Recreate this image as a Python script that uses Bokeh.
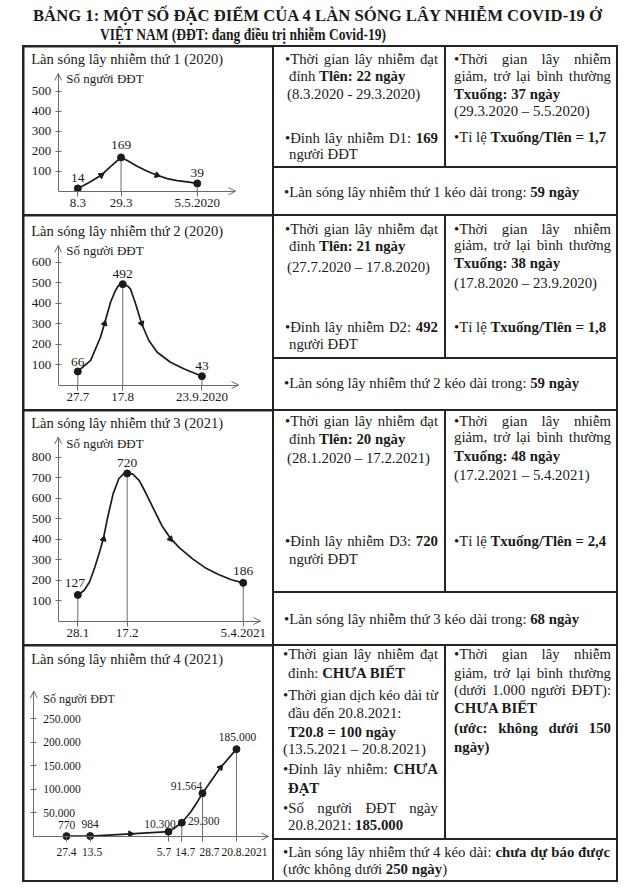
import pandas as pd
from bokeh.plotting import figure
from bokeh.models import (Div, Spacer, Label, LabelSet, ColumnDataSource,
                          FixedTicker, Range1d)
from bokeh.layouts import row, column
from bokeh.core.properties import value
from bokeh.embed import file_html
from bokeh.resources import INLINE

SERIF = "Liberation Serif"
INK = "#1b1b1b"
AXIS = "#6b6b6b"
RULE = "#242424"

# ------------------------------------------------------------------ data
TITLE_1 = "BẢNG 1: MỘT SỐ ĐẶC ĐIỂM CỦA 4 LÀN SÓNG LÂY NHIỄM COVID-19 Ở"
TITLE_2 = "VIỆT NAM (ĐĐT: đang điều trị nhiễm Covid-19)"
Y_CAPTION = "Số người ĐĐT"

wave_titles = ["Làn sóng lây nhiễm thứ 1 (2020)", "Làn sóng lây nhiễm thứ 2 (2020)",
               "Làn sóng lây nhiễm thứ 3 (2021)", "Làn sóng lây nhiễm thứ 4 (2021)"]

# wave 1
w1_dates = ["2020-03-08", "2020-03-29", "2020-05-05"]
w1_date_labels = ["8.3", "29.3", "5.5.2020"]
w1_values = [14, 169, 39]
w1_y_ticks = [100, 200, 300, 400, 500]
w1_curve_days = [0, 5.5, 11.4, 16, 21, 24, 28.8, 33.7, 38.5, 43.4, 48.2, 53.1, 58]
w1_curve_values = [14, 44, 80, 124, 169, 153, 125, 100, 80, 63, 53, 47, 39]
w1_arrow_days = [11.4, 38.5]
w1_arrow_values = [80, 80]

# wave 2
w2_dates = ["2020-07-27", "2020-08-17", "2020-09-23"]
w2_date_labels = ["27.7", "17.8", "23.9.2020"]
w2_values = [66, 492, 43]
w2_y_ticks = [100, 200, 300, 400, 500, 600]
w2_curve_days = [0, 6, 10.6, 12.5, 15.3, 17.6, 19.2, 21, 23.2, 24.6, 27, 29.8, 33.2,
                 37.1, 43.3, 49.5, 58]
w2_curve_values = [66, 120, 233, 300, 404, 461, 488, 492, 483, 469, 396, 300, 217,
                   160, 111, 79, 43]
w2_arrow_days = [12.5, 29.8]
w2_arrow_values = [300, 300]

# wave 3
w3_dates = ["2021-01-28", "2021-02-17", "2021-04-05"]
w3_date_labels = ["28.1", "17.2", "5.4.2021"]
w3_values = [127, 720, 186]
w3_y_ticks = [100, 200, 300, 400, 500, 600, 700, 800]
w3_curve_days = [0, 2.5, 4.7, 6.9, 9.0, 10.4, 12.1, 14.3, 16.6, 18.8, 20, 22.2, 24.9,
                 27.4, 30.7, 34.0, 37.5, 41.2, 46.5, 51.7, 57.0, 62.2, 67]
w3_curve_values = [127, 149, 189, 262, 344, 404, 506, 620, 694, 721, 720, 718, 685,
                   628, 547, 466, 404, 357, 303, 259, 227, 201, 186]
w3_arrow_days = [10.4, 37.5]
w3_arrow_values = [400, 400]

# wave 4
w4_dates = ["2021-04-27", "2021-05-13", "2021-07-05", "2021-07-14", "2021-07-28", "2021-08-20"]
w4_date_labels = ["27.4", "13.5", "5.7", "14.7", "28.7", "20.8.2021"]
w4_values = [770, 984, 10300, 29300, 91564, 185000]
w4_y_ticks = [50000, 100000, 150000, 200000, 250000]
w4_curve_days = [0, 16, 43.3, 69, 72.6, 78, 83.9, 88.4, 92, 104.2, 115]
w4_curve_values = [770, 984, 5500, 10300, 17000, 29300, 51500, 72700, 91564, 146000, 185000]
w4_arrow_days = [43.3, 104.2]
w4_arrow_values = [5500, 146000]


def vn_num(v):
    return f"{v:,}".replace(",", ".")


def day_offsets(dates):
    d = pd.to_datetime(pd.Series(dates), format="%Y-%m-%d")
    return [int(v) for v in (d - d.iloc[0]).dt.days]


# ------------------------------------------------------------------ charts
CHART_W = 248


def wave_chart(h, g, title, dates, date_labels, values, y_ticks,
               curve_d, curve_v, arrow_d, arrow_v, st):
    days = day_offsets(dates)
    s, t = g["px_per_day"], g["px_per_unit"]
    d0, oy = g["day0_x"], g["origin_y"]
    x_lo, x_hi = -d0 / s, (CHART_W - d0) / s
    y_lo, y_hi = -(h - oy) / t, oy / t
    ax_x = (g["axis_x"] - d0) / s
    tip_y = (oy - g["y_tip"]) / t
    tip_x = (g["x_tip"] - d0) / s

    p = figure(width=CHART_W, height=h, x_range=Range1d(x_lo, x_hi),
               y_range=Range1d(y_lo, y_hi), output_backend="svg",
               toolbar_location=None, title=None,
               min_border_left=0, min_border_right=0, min_border_top=0, min_border_bottom=0,
               background_fill_color="white", border_fill_color="white",
               outline_line_color=None)
    p.grid.visible = False
    xa, ya = p.xaxis[0], p.yaxis[0]
    for ax in (xa, ya):
        ax.axis_line_color = AXIS
        ax.axis_line_width = 1
        ax.major_tick_line_color = AXIS
        ax.minor_tick_line_color = None
        ax.major_label_text_font = SERIF
        ax.major_label_text_color = INK
        ax.major_label_text_font_size = st["tick_fs"]
    xa.fixed_location = 0
    ya.fixed_location = ax_x
    xa.bounds = (ax_x, tip_x)
    ya.bounds = (0, tip_y)
    xa.ticker = FixedTicker(ticks=days)
    xa.major_tick_in = 0
    xa.major_tick_out = 5
    xa.major_label_standoff = 3
    ya.ticker = FixedTicker(ticks=y_ticks)
    ya.major_tick_in = 3
    ya.major_tick_out = 3
    ya.major_label_standoff = 4

    if st["inside_labels"]:
        xa.major_label_overrides = {dd: "" for dd in days}
        ya.major_label_overrides = {tk: "" for tk in y_ticks}
        ysrc = ColumnDataSource(dict(x=[ax_x] * len(y_ticks), y=y_ticks,
                                     t=[vn_num(tk) for tk in y_ticks]))
        p.add_layout(LabelSet(x="x", y="y", text="t", source=ysrc, x_offset=st["ylab_dx"],
                              text_align="left", text_baseline="middle",
                              text_font=value(SERIF), text_font_size=st["tick_fs"],
                              text_color=INK))
        xsrc = ColumnDataSource(dict(x=days, y=[0] * len(days), t=date_labels,
                                     xo=st["xlab_dx"]))
        p.add_layout(LabelSet(x="x", y="y", text="t", source=xsrc, x_offset="xo",
                              y_offset=st["xlab_dy"], text_align="center",
                              text_baseline="middle", text_font=value(SERIF),
                              text_font_size=st["tick_fs"], text_color=INK))
    else:
        xa.major_label_overrides = {dd: lab for dd, lab in zip(days, date_labels)}

    # drop lines, curve, points, direction marks
    p.segment(x0=days, y0=[0] * len(days), x1=days, y1=values, line_color=AXIS, line_width=1)
    p.line(curve_d, curve_v, line_color=INK, line_width=1.7, line_join="round")
    p.scatter(days, values, size=st["dot"], color=INK)
    p.scatter(arrow_d, arrow_v, marker="triangle", size=6, angle=st["arrow_angles"], color=INK)

    # open arrow heads at the ends of both axes
    hw, hl = 3.5, 7.0
    p.line([ax_x - hw / s, ax_x, ax_x + hw / s], [tip_y - hl / t, tip_y, tip_y - hl / t],
           line_color=AXIS, line_width=1)
    p.line([tip_x - hl / s, tip_x, tip_x - hl / s], [hw / t, 0, -hw / t],
           line_color=AXIS, line_width=1)

    vsrc = ColumnDataSource(dict(x=days, y=values, t=[vn_num(v) for v in values],
                                 xo=[o[0] for o in st["val_off"]],
                                 yo=[o[1] for o in st["val_off"]]))
    p.add_layout(LabelSet(x="x", y="y", text="t", source=vsrc, x_offset="xo", y_offset="yo",
                          text_align="center", text_baseline="middle",
                          text_font=value(SERIF), text_font_size=st["val_fs"],
                          text_color=INK))

    p.add_layout(Label(x=ax_x, y=tip_y, x_offset=st["title_off"][0], y_offset=st["title_off"][1],
                       text=title, text_font=SERIF, text_font_size="14.6px", text_color=INK,
                       text_align="left", text_baseline="middle"))
    p.add_layout(Label(x=ax_x, y=tip_y, x_offset=st["cap_off"][0], y_offset=st["cap_off"][1],
                       text=Y_CAPTION, text_font=SERIF, text_font_size=st["cap_fs"],
                       text_color=INK, text_align="left", text_baseline="middle"))
    return p


c1 = wave_chart(167, dict(axis_x=33.7, origin_y=143.7, day0_x=53.3, px_per_day=2.06,
                          px_per_unit=0.2, y_tip=26, x_tip=211),
                wave_titles[0], w1_dates, w1_date_labels, w1_values, w1_y_ticks,
                w1_curve_days, w1_curve_values, w1_arrow_days, w1_arrow_values,
                dict(tick_fs="13px", val_fs="13.5px", cap_fs="13px", dot=7,
                     inside_labels=False, arrow_angles=[-0.94, -1.91],
                     val_off=[(0, 10), (0, 12), (0, 10.5)],
                     title_off=(-27, 15), cap_off=(8, -5)))
c2 = wave_chart(193, dict(axis_x=33.7, origin_y=168.5, day0_x=53.3, px_per_day=2.14,
                          px_per_unit=0.205, y_tip=29, x_tip=214),
                wave_titles[1], w2_dates, w2_date_labels, w2_values, w2_y_ticks,
                w2_curve_days, w2_curve_values, w2_arrow_days, w2_arrow_values,
                dict(tick_fs="13px", val_fs="13.5px", cap_fs="13px", dot=7,
                     inside_labels=False, arrow_angles=[-0.28, -2.79],
                     val_off=[(0, 9.5), (0, 10), (0, 10)],
                     title_off=(-27, 15), cap_off=(8, -5)))
c3 = wave_chart(233, dict(axis_x=33.7, origin_y=209.5, day0_x=53.3, px_per_day=2.469,
                          px_per_unit=0.205, y_tip=25.7, x_tip=236),
                wave_titles[2], w3_dates, w3_date_labels, w3_values, w3_y_ticks,
                w3_curve_days, w3_curve_values, w3_arrow_days, w3_arrow_values,
                dict(tick_fs="13px", val_fs="13.5px", cap_fs="13px", dot=7,
                     inside_labels=False, arrow_angles=[-0.23, -2.47],
                     val_off=[(-3, 11.5), (0, 10), (0, 11.5)],
                     title_off=(-27, 14.7), cap_off=(8, -6.5)))
c4 = wave_chart(234, dict(axis_x=9.3, origin_y=190, day0_x=42, px_per_day=1.478,
                          px_per_unit=23.6 / 50000, y_tip=44.7, x_tip=244),
                wave_titles[3], w4_dates, w4_date_labels, w4_values, w4_y_ticks,
                w4_curve_days, w4_curve_values, w4_arrow_days, w4_arrow_values,
                dict(tick_fs="11.5px", val_fs="11.5px", cap_fs="12px", dot=7,
                     inside_labels=True, arrow_angles=[-1.57, -0.66],
                     ylab_dx=9.5, xlab_dx=[0, 2, -4.5, 3.5, 7, 8], xlab_dy=-15.5,
                     val_off=[(0, 11), (0, 12.5), (-8.5, 8), (22, 2), (-16, 7.5), (1, 12)],
                     title_off=(-2.6, 32.4), cap_off=(9.5, -7.5)))

# ------------------------------------------------------------------ text cells
FONT_CSS = "font-family:'Liberation Serif','Times New Roman',serif;color:#1b1b1b;"


def text_cell(w, h, top, lines, fs="14.8px"):
    parts = []
    for (yc, left, right, html, just) in lines:
        tp = yc - top - 10.5
        align = "justify" if just else "left"
        parts.append(
            f'<div style="position:absolute;left:{left}px;right:{right}px;top:{tp:.1f}px;'
            f'height:19px;line-height:19px;white-space:nowrap;text-align:{align};'
            f'text-align-last:{align};">{html}</div>')
    inner = (f'<div style="position:relative;width:{w}px;height:{h}px;overflow:hidden;'
             f'background:#fff;{FONT_CSS}font-size:{fs};">' + "".join(parts) + "</div>")
    return Div(text=inner, width=w, height=h, margin=0,
               styles={"background-color": "#ffffff"})


J, L_ = True, False
A1 = text_cell(170, 119, 47, [
    (60, 11, 6, "•Thời gian lây nhiễm đạt", J),
    (77.5, 15, 6, "đỉnh <b>Tlên: 22 ngày</b>", L_),
    (95.7, 13, 6, "(8.3.2020 - 29.3.2020)", L_),
    (139, 11, 6, "•Đỉnh lây nhiễm D1: <b>169</b>", J),
    (155.5, 15, 6, "người ĐĐT", L_)])
B1 = text_cell(170, 119, 47, [
    (60, 8, 5, "•Thời gian lây nhiễm", J),
    (77.5, 8, 5, "giảm, trở lại bình thường", J),
    (95, 8, 5, "<b>Txuống: 37 ngày</b>", L_),
    (112.7, 8, 5, "(29.3.2020 – 5.5.2020)", L_),
    (138.3, 8, 5, "•Tỉ lệ <b>Txuống/Tlên = 1,7</b>", L_)])
C1 = text_cell(342, 46, 168, [
    (193.3, 10, 6, "•Làn sóng lây nhiễm thứ 1 kéo dài trong: <b>59 ngày</b>", L_)])

A2 = text_cell(170, 141, 216, [
    (230, 11, 6, "•Thời gian lây nhiễm đạt", J),
    (247.7, 15, 6, "đỉnh <b>Tlên: 21 ngày</b>", L_),
    (268.3, 13, 6, "(27.7.2020 – 17.8.2020)", L_),
    (328.3, 11, 6, "•Đỉnh lây nhiễm D2: <b>492</b>", J),
    (345, 15, 6, "người ĐĐT", L_)])
B2 = text_cell(170, 141, 216, [
    (230, 8, 5, "•Thời gian lây nhiễm", J),
    (246.7, 8, 5, "giảm, trở lại bình thường", J),
    (264.3, 8, 5, "<b>Txuống: 38 ngày</b>", L_),
    (284.3, 8, 5, "(17.8.2020 – 23.9.2020)", L_),
    (328.3, 8, 5, "•Tỉ lệ <b>Txuống/Tlên = 1,8</b>", L_)])
C2 = text_cell(342, 50, 359, [
    (384.3, 10, 6, "•Làn sóng lây nhiễm thứ 2 kéo dài trong: <b>59 ngày</b>", L_)])

A3 = text_cell(170, 180, 411, [
    (422.3, 11, 6, "•Thời gian lây nhiễm đạt", J),
    (440, 15, 6, "đỉnh <b>Tlên: 20 ngày</b>", L_),
    (459, 13, 6, "(28.1.2020 – 17.2.2021)", L_),
    (542.3, 11, 6, "•Đỉnh lây nhiễm D3: <b>720</b>", J),
    (560, 15, 6, "người ĐĐT", L_)])
B3 = text_cell(170, 180, 411, [
    (422.3, 8, 5, "•Thời gian lây nhiễm", J),
    (438.3, 8, 5, "giảm, trở lại bình thường", J),
    (457.3, 8, 5, "<b>Txuống: 48 ngày</b>", L_),
    (476.7, 8, 5, "(17.2.2021 – 5.4.2021)", L_),
    (542.3, 8, 5, "•Tỉ lệ <b>Txuống/Tlên = 2,4</b>", L_)])
C3 = text_cell(342, 51, 593, [
    (620, 10, 6, "•Làn sóng lây nhiễm thứ 3 kéo dài trong: <b>68 ngày</b>", L_)])

A4 = text_cell(170, 192, 646, [
    (655, 9, 6, "•Thời gian lây nhiễm đạt", J),
    (674.3, 14, 6, "đỉnh: <b>CHƯA BIẾT</b>", L_),
    (696, 9, 6, "•Thời gian dịch kéo dài từ", J),
    (714, 14, 6, "đầu đến 20.8.2021:", L_),
    (733.3, 14, 6, "<b>T20.8 = 100 ngày</b>", L_),
    (750, 9, 6, "(13.5.2021 – 20.8.2021)", L_),
    (770.7, 9, 6, "•Đỉnh lây nhiễm: <b>CHƯA</b>", J),
    (789, 14, 6, "<b>ĐẠT</b>", L_),
    (809.3, 9, 6, "•Số người ĐĐT ngày", J),
    (826, 14, 6, "20.8.2021: <b>185.000</b>", L_)])
B4 = text_cell(170, 192, 646, [
    (655, 8, 5, "•Thời gian lây nhiễm", J),
    (674.3, 8, 5, "giảm, trở lại bình thường", J),
    (691.7, 8, 5, "(dưới 1.000 người ĐĐT):", J),
    (709.3, 8, 5, "<b>CHƯA BIẾT</b>", L_),
    (729.3, 8, 5, "<b>(ước: không dưới 150</b>", J),
    (748.3, 8, 5, "<b>ngày)</b>", L_)])
C4 = text_cell(342, 40, 840, [
    (853.3, 9, 6, "•Làn sóng lây nhiễm thứ 4 kéo dài: <b>chưa dự báo được</b>", J),
    (870, 9, 6, "(ước không dưới <b>250 ngày</b>)", L_)])

# ------------------------------------------------------------------ header
HEAD_STYLE = ("font-family:'Liberation Serif','Times New Roman',serif;font-weight:bold;"
              "font-size:16.5px;fill:#1b1b1b")
header_html = (
    '<svg width="640" height="45" xmlns="http://www.w3.org/2000/svg" style="display:block">'
    f'<text x="33" y="21" textLength="569" lengthAdjust="spacingAndGlyphs" '
    f'style="{HEAD_STYLE}">{TITLE_1}</text>'
    f'<text x="100" y="40" textLength="286" lengthAdjust="spacingAndGlyphs" '
    f'style="{HEAD_STYLE}">{TITLE_2}</text>'
    '</svg>')
header = Div(text=header_html, width=640, height=45, margin=0,
             styles={"background-color": "#ffffff"})

# ------------------------------------------------------------------ layout
BG = {"background-color": RULE}


def table_row(chart, a, b, c):
    block = column(row(a, b, spacing=2, styles=BG), c, spacing=2, styles=BG)
    return row(chart, block, spacing=2, styles=BG)


table = column(table_row(c1, A1, B1, C1), table_row(c2, A2, B2, C2),
               table_row(c3, A3, B3, C3), table_row(c4, A4, B4, C4),
               spacing=2, styles=BG)
boxed = column(
    Spacer(width=596, height=2, styles=BG),
    row(Spacer(width=2, height=833, styles=BG), table, Spacer(width=2, height=833, styles=BG)),
    Spacer(width=596, height=2, styles=BG))
page = column(header, row(Spacer(width=22, height=837), boxed),
              styles={"background-color": "#ffffff"})

open("out.html", "w").write(file_html(page, INLINE))
